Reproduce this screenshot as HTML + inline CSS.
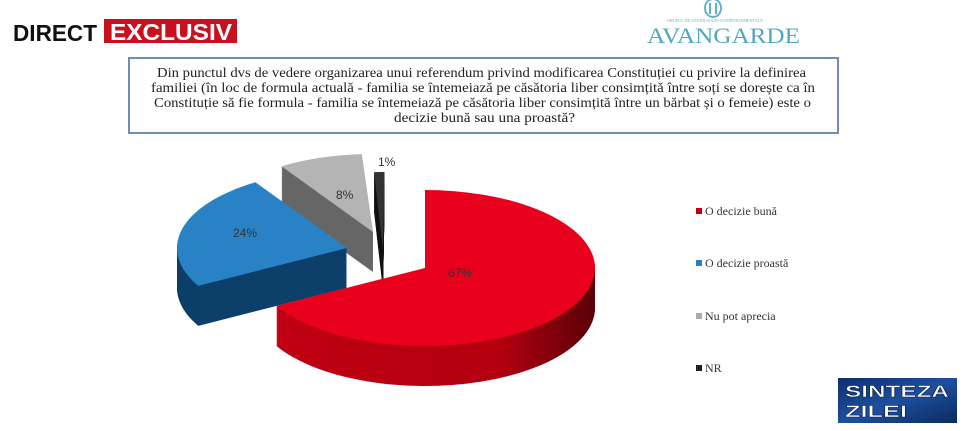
<!DOCTYPE html>
<html><head><meta charset="utf-8"><style>
html,body{margin:0;padding:0;background:#fff;width:970px;height:431px;overflow:hidden}
</style></head><body>
<svg id="s" width="970" height="431" viewBox="0 0 970 431" xmlns="http://www.w3.org/2000/svg">
<defs>
<linearGradient id="rs" x1="0" x2="1"><stop offset="0" stop-color="#c00012"/><stop offset="0.7" stop-color="#b3000f"/><stop offset="1" stop-color="#5a0008"/></linearGradient>
<linearGradient id="sz" x1="0" y1="0" x2="1" y2="1"><stop offset="0" stop-color="#0d2f6e"/><stop offset="0.5" stop-color="#1d4fa0"/><stop offset="1" stop-color="#0b2a5e"/></linearGradient>
</defs>
<text x="13" y="41" font-family="Liberation Sans, sans-serif" font-weight="bold" font-size="23" fill="#111" textLength="84" lengthAdjust="spacingAndGlyphs">DIRECT</text>
<rect x="104" y="19" width="133" height="24" fill="#c8101e"/>
<text x="110" y="40" font-family="Liberation Sans, sans-serif" font-weight="bold" font-size="23" fill="#fff" textLength="122" lengthAdjust="spacingAndGlyphs">EXCLUSIV</text>
<g fill="none" stroke="#5fb3c8" stroke-width="2"><ellipse cx="713" cy="8" rx="8" ry="9"/><line x1="710" y1="3" x2="710" y2="14"/><line x1="716" y1="3" x2="716" y2="14"/></g>
<text x="667" y="22" font-family="Liberation Serif, serif" font-size="4" fill="#5fb3c8" textLength="96" lengthAdjust="spacingAndGlyphs">GRUPUL DE STUDII SOCIO-COMPORTAMENTALE</text>
<text x="647" y="43" font-family="Liberation Serif, serif" font-size="22" fill="#4fa8c2" textLength="153" lengthAdjust="spacingAndGlyphs">AVANGARDE</text>
<rect x="129" y="58" width="709" height="75" fill="#fff" stroke="#6f8db5" stroke-width="2"/>
<g font-family="Liberation Serif, serif" font-size="14" fill="#222" lengthAdjust="spacingAndGlyphs">
<text x="157" y="77" textLength="649" lengthAdjust="spacingAndGlyphs">Din punctul dvs de vedere organizarea unui referendum privind modificarea Constituției cu privire la definirea</text>
<text x="151" y="92" textLength="664" lengthAdjust="spacingAndGlyphs">familiei (în loc de formula actuală -  familia se întemeiază pe căsătoria liber consimțită între soți  se dorește ca în</text>
<text x="154" y="107" textLength="657" lengthAdjust="spacingAndGlyphs">Constituție să fie formula - familia se întemeiază pe căsătoria liber consimțită între un bărbat și o femeie) este o</text>
<text x="394" y="122" textLength="181" lengthAdjust="spacingAndGlyphs">decizie bună sau una proastă?</text>
</g>
<g id="pie"></g>
<g font-family="Liberation Sans, sans-serif" font-size="12" fill="#333">
<text x="448" y="277">67%</text>
<text x="233" y="237">24%</text>
<text x="336" y="199">8%</text>
<text x="378" y="166">1%</text>
</g>
<g font-family="Liberation Serif, serif" font-size="12" fill="#333">
<rect x="696" y="208" width="6" height="6" fill="#c00012"/><text x="705" y="215">O decizie bună</text>
<rect x="696" y="260" width="6" height="6" fill="#2a7fc0"/><text x="705" y="267">O decizie proastă</text>
<rect x="696" y="313" width="6" height="6" fill="#aaa"/><text x="705" y="320">Nu pot aprecia</text>
<rect x="696" y="365" width="6" height="6" fill="#222"/><text x="705" y="372">NR</text>
</g>
<rect x="838" y="378" width="119" height="45" fill="url(#sz)"/>
<g font-family="Liberation Sans, sans-serif" font-size="17" fill="#fff" stroke="#0a1f4a" stroke-width="0.5" font-weight="bold">
<text x="845" y="397" textLength="104" lengthAdjust="spacingAndGlyphs">SINTEZA</text>
<text x="845" y="417" textLength="62" lengthAdjust="spacingAndGlyphs">ZILEI</text>
</g>
</svg>
<script>
(function(){
var g=document.getElementById('pie'),ns='http://www.w3.org/2000/svg';
var cx=425,cy=268,rx=170,ry=78,D=40;
var sl=[
 {a0:-90,a1:151,dx:0,dy:0,top:'#e8001c',side:'url(#rs)'},
 {a0:151,a1:237.4,dx:-78,dy:-20,top:'#2a82c6',side:'#0d3f6a'},
 {a0:237.4,a1:266.2,dx:-52,dy:-36,top:'#b4b4b4',side:'#666'},
 {a0:267,a1:270.5,dx:-42,dy:-18,top:'#333',side:'#111'}
];
function P(s,oy){var r=Math.PI/180,x0=cx+s.dx,y0=cy+s.dy+oy;
 var ax=x0+rx*Math.cos(s.a0*r),ay=y0+ry*Math.sin(s.a0*r),bx=x0+rx*Math.cos(s.a1*r),by=y0+ry*Math.sin(s.a1*r);
 var lg=(s.a1-s.a0)>180?1:0;
 return 'M'+x0+','+y0+'L'+ax+','+ay+'A'+rx+','+ry+' 0 '+lg+' 1 '+bx+','+by+'Z';}
function add(d,f){var p=document.createElementNS(ns,'path');p.setAttribute('d',d);p.setAttribute('fill',f);g.appendChild(p);}
var order=[3,2,1,0];
order.forEach(function(i){var s=sl[i];
 for(var k=D;k>0;k-=1)add(P(s,k),s.side);
 add(P(s,0),s.top);});
})();
</script>
</body></html>
